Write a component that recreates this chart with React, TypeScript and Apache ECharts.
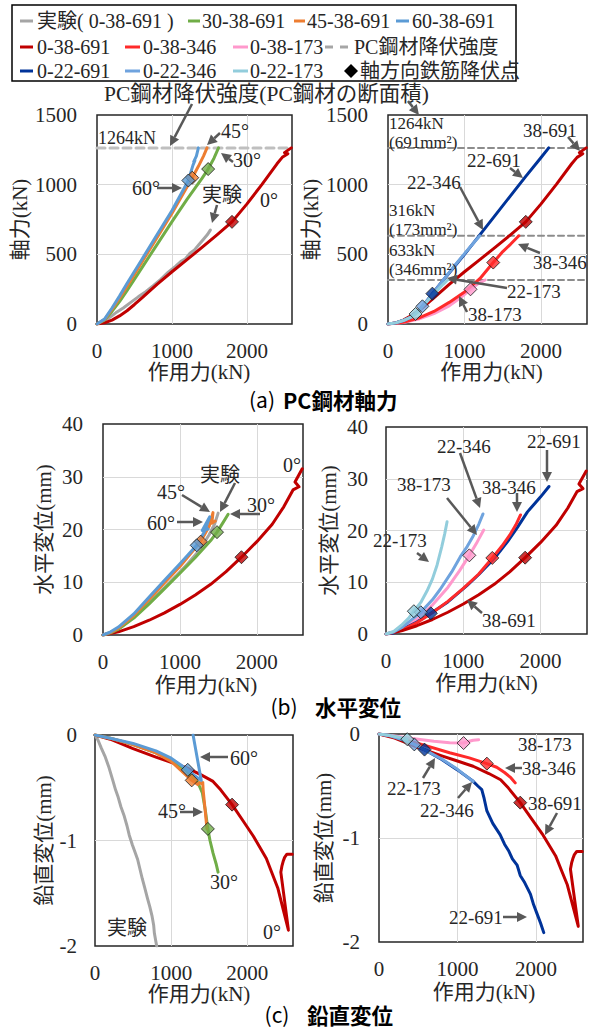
import React, { useEffect, useRef } from 'react';
import * as echarts from 'echarts';

const FONT = '"Liberation Serif", "Times New Roman", serif, "Noto Sans CJK JP"';
const SANS = '"Noto Sans CJK JP", "Noto Sans", sans-serif';

// ---------- series names ----------
const N_EXP = '実験( 0-38-691 )';
const N_30 = '30-38-691';
const N_45 = '45-38-691';
const N_60 = '60-38-691';
const N_38_691 = '0-38-691';
const N_38_346 = '0-38-346';
const N_38_173 = '0-38-173';
const N_PC = 'PC鋼材降伏強度';
const N_22_691 = '0-22-691';
const N_22_346 = '0-22-346';
const N_22_173 = '0-22-173';
const N_YIELD = '軸方向鉄筋降伏点';

// ---------- axis ticks ----------
const forceTicks = [0, 1000, 2000];
const axialTicks = [0, 500, 1000, 1500];
const horizTicks = [0, 10, 20, 30, 40];
const vertTicks = [-2, -1, 0];
const forceMax = 2600;

// PC steel yield strengths (kN)
const pcYield = [1264, 633, 316];

// ---------- (a) axial force of PC steel [force kN, axial kN] ----------
const axial_exp = [[0,0],[60,15],[150,40],[250,80],[350,115],[450,155],[550,195],[650,232],[750,275],[850,320],[950,372],[1050,415],[1120,450],[1180,468],[1240,508],[1300,532],[1360,570],[1420,608],[1470,640],[1511,674]];
const axial_30 = [[0,0],[100,28],[200,90],[300,160],[400,240],[600,405],[800,570],[1000,735],[1200,895],[1400,1045],[1482,1112],[1560,1190],[1620,1264]];
const axial_45 = [[0,0],[100,32],[200,105],[300,185],[400,270],[600,445],[800,620],[1000,795],[1270,1050],[1350,1130],[1420,1205],[1467,1264]];
const axial_60 = [[0,0],[100,35],[200,115],[300,200],[400,290],[600,465],[800,640],[1000,815],[1218,1030],[1280,1140],[1305,1172],[1290,1166],[1325,1205],[1352,1264]];
const axial_38_691 = [[0,0],[100,8],[200,28],[300,58],[400,95],[500,140],[600,188],[800,285],[1000,375],[1200,462],[1400,550],[1600,640],[1800,733],[2000,862],[2200,1002],[2400,1150],[2470,1196],[2545,1222],[2500,1230],[2590,1264]];
const axial_38_346 = [[0,0],[200,12],[400,42],[600,90],[800,155],[1000,230],[1200,325],[1375,441],[1500,520],[1600,572],[1710,633]];
const axial_38_173 = [[0,0],[200,10],[400,35],[600,75],[800,130],[950,190],[1078,249],[1180,290],[1270,316]];
const axial_22_691 = [[0,0],[100,8],[200,25],[300,50],[400,95],[500,160],[580,218],[700,300],[850,400],[1000,500],[1200,640],[1400,780],[1600,920],[1800,1060],[2000,1195],[2100,1264]];
const axial_22_346 = [[0,0],[100,8],[200,25],[300,50],[400,95],[450,127],[550,195],[700,300],[850,405],[1000,505],[1100,570],[1200,633]];
const axial_22_173 = [[0,0],[100,8],[200,25],[300,50],[360,72],[450,125],[550,185],[650,245],[720,285],[780,316]];

// ---------- (b) horizontal displacement [force kN, mm] ----------
const horiz_exp = [[0,0],[100,0.4],[200,1.2],[350,2.8],[500,4.8],[650,6.9],[800,9.0],[950,11.2],[1100,13.5],[1250,16.0],[1380,19.0],[1450,21.0],[1497,23.1]];
const horiz_30 = [[0,0],[100,0.4],[200,1.1],[400,3.2],[600,5.9],[800,8.8],[1000,11.7],[1200,14.7],[1400,17.9],[1482,19.5],[1560,21.3],[1627,22.9]];
const horiz_45 = [[0,0],[100,0.5],[200,1.3],[400,3.7],[600,6.8],[800,9.9],[1000,13.0],[1270,17.7],[1380,20.6],[1430,23.2],[1415,21.2],[1460,21.6]];
const horiz_60 = [[0,0],[100,0.6],[200,1.5],[400,4.0],[600,7.2],[800,10.4],[1000,13.5],[1218,17.0],[1320,19.6],[1388,22.4],[1290,19.8],[1365,20.1]];
const horiz_38_691 = [[0,0],[200,0.6],[400,1.6],[600,2.8],[800,4.2],[1000,5.8],[1200,7.6],[1400,9.6],[1600,12.0],[1800,14.75],[2000,17.7],[2200,21.0],[2350,24.3],[2470,27.5],[2548,28.1],[2496,29.0],[2590,31.5]];
const horiz_38_346 = [[0,0],[200,0.7],[400,2.2],[600,4.1],[800,6.3],[1000,8.8],[1200,11.6],[1375,14.7],[1500,17.0],[1600,19.1],[1680,21.1],[1740,23.0]];
const horiz_38_173 = [[0,0],[100,0.3],[200,0.9],[400,2.9],[600,5.6],[800,9.0],[950,12.2],[1078,15.2],[1180,17.8],[1264,20.1]];
const horiz_22_691 = [[0,0],[100,0.2],[200,0.8],[400,2.3],[580,4.0],[800,6.2],[1050,9.4],[1200,11.5],[1400,14.6],[1570,17.8],[1700,20.6],[1830,23.6],[2000,26.5],[2108,28.5]];
const horiz_22_346 = [[0,0],[100,0.4],[200,1.2],[300,2.4],[450,4.2],[600,6.6],[700,8.6],[850,12.0],[960,14.9],[1050,16.9],[1130,19.0],[1200,21.2],[1255,23.2]];
const horiz_22_173 = [[0,0],[100,0.5],[200,1.7],[300,3.2],[360,4.4],[450,6.1],[530,8.3],[600,10.6],[660,13.3],[720,16.8],[760,19.4],[790,21.7]];

// ---------- (c) vertical displacement [force kN, mm] ----------
const vert_exp = [[0,0],[40,-0.05],[80,-0.12],[130,-0.2],[180,-0.3],[230,-0.42],[270,-0.52],[300,-0.58],[340,-0.68],[380,-0.76],[420,-0.86],[450,-0.95],[490,-1.04],[520,-1.1],[560,-1.18],[590,-1.27],[620,-1.36],[650,-1.44],[690,-1.55],[720,-1.63],[750,-1.72],[770,-1.8],[780,-1.88],[795,-1.94],[810,-2.0]];
const vert_30 = [[0,0],[200,-0.03],[500,-0.09],[800,-0.17],[1000,-0.24],[1200,-0.34],[1350,-0.45],[1410,-0.55],[1450,-0.72],[1482,-0.89],[1510,-1.0],[1550,-1.12],[1590,-1.22],[1616,-1.3]];
const vert_45 = [[0,0],[200,-0.03],[500,-0.09],[800,-0.17],[1000,-0.25],[1270,-0.43],[1350,-0.47],[1375,-0.45],[1395,-0.46],[1415,-0.45],[1420,-0.52],[1445,-0.7],[1470,-0.89]];
const vert_60 = [[0,0],[200,-0.03],[500,-0.08],[800,-0.15],[1000,-0.22],[1218,-0.33],[1300,-0.38],[1395,-0.43],[1288,0.0]];
const vert_38_691 = [[0,0],[200,-0.04],[500,-0.13],[800,-0.21],[1000,-0.26],[1200,-0.31],[1400,-0.38],[1550,-0.44],[1650,-0.52],[1800,-0.66],[1950,-0.82],[2080,-0.96],[2250,-1.17],[2330,-1.32],[2400,-1.45],[2470,-1.65],[2540,-1.85],[2440,-1.3],[2455,-1.24],[2470,-1.2],[2490,-1.16],[2520,-1.13],[2590,-1.13]];
const vert_38_346 = [[0,0],[200,-0.03],[500,-0.09],[900,-0.18],[1150,-0.23],[1375,-0.285],[1500,-0.32],[1600,-0.37],[1680,-0.42],[1736,-0.47]];
const vert_38_173 = [[0,0],[200,-0.02],[400,-0.04],[700,-0.07],[900,-0.085],[1078,-0.087],[1150,-0.07],[1200,-0.06],[1270,-0.055]];
const vert_22_691 = [[0,0],[150,-0.02],[300,-0.06],[450,-0.11],[580,-0.15],[800,-0.245],[1000,-0.345],[1200,-0.455],[1260,-0.5],[1310,-0.535],[1340,-0.62],[1375,-0.74],[1450,-0.86],[1545,-0.97],[1600,-1.06],[1650,-1.12],[1700,-1.2],[1760,-1.26],[1800,-1.36],[1850,-1.42],[1930,-1.54],[1970,-1.64],[2010,-1.72],[2060,-1.82],[2100,-1.91]];
const vert_22_346 = [[0,0],[150,-0.02],[300,-0.055],[450,-0.1],[600,-0.16],[800,-0.24],[1000,-0.34],[1200,-0.455]];
const vert_22_173 = [[0,0],[120,-0.012],[240,-0.028],[360,-0.05]];

// ---------- yield points of axial rebar ----------
// order: 0-38-691, 30, 45, 60, 0-38-346, 0-38-173, 0-22-691, 0-22-346, 0-22-173
const yieldForce = [1800, 1482, 1270, 1218, 1375, 1078, 580, 450, 360];
const yieldAxial = [733, 1112, 1050, 1030, 441, 249, 218, 127, 72];
const yieldHoriz = [14.75, 19.5, 17.7, 17.0, 14.7, 15.2, 4.0, 4.2, 4.4];
const yieldVert = [-0.66, -0.89, -0.43, -0.33, -0.285, -0.087, -0.15, -0.1, -0.05];

// ---------- styles ----------
const C_EXP = '#A5A5A5';
const C_30 = '#70AD47';
const C_45 = '#ED7D31';
const C_60 = '#5B9BD5';
const C_38_691 = '#C00000';
const C_38_346 = '#FF2A2A';
const C_38_173 = '#FF99CC';
const C_PC = '#A6A6A6';
const C_22_691 = '#003399';
const C_22_346 = '#6FA3DE';
const C_22_173 = '#92CDDC';
const yieldColors = [C_38_691, C_30, C_45, C_60, C_38_346, C_38_173, C_22_691, C_22_346, C_22_173];
const TXT = '#262626';
const ARR = '#595959';

const grids = [
  { left: 97, top: 115, width: 195, height: 209 },
  { left: 388, top: 115, width: 199, height: 209 },
  { left: 103, top: 424, width: 200, height: 211 },
  { left: 386, top: 427, width: 201, height: 207 },
  { left: 95, top: 735, width: 198, height: 211 },
  { left: 379, top: 734, width: 204, height: 208 },
];

function lineS(name: string, data: number[][], color: string, gi: number, opts: any = {}) {
  return {
    type: 'line', name, data, xAxisIndex: gi, yAxisIndex: gi,
    symbol: 'none', showSymbol: false, silent: true, clip: true,
    smooth: opts.smooth ?? false,
    lineStyle: { color, width: opts.width ?? 3, type: opts.dash ?? 'solid', cap: 'round', join: 'round' },
    itemStyle: { color }, z: opts.z ?? 2,
  };
}
function pcLine(v: number, gi: number, color: string, width: number, dash: number[]) {
  return lineS(N_PC, [[0, v], [forceMax, v]], color, gi, { width, dash, z: 1 });
}
function yieldS(gi: number, idx: number[], ys: number[]) {
  return {
    type: 'scatter', name: N_YIELD, xAxisIndex: gi, yAxisIndex: gi, silent: true,
    symbol: 'diamond', symbolSize: 13, z: 5,
    data: idx.map((i) => ({ value: [yieldForce[i], ys[i]], itemStyle: { color: yieldColors[i], borderColor: '#1a1a1a', borderWidth: 1 } })),
  };
}

const plain = (v: number) => String(v);

function xAx(gi: number, nameGap: number, shift: number) {
  return {
    type: 'value', gridIndex: gi, min: forceTicks[0], max: forceMax, interval: forceTicks[1] - forceTicks[0],
    axisLine: { show: false }, axisTick: { show: false },
    splitLine: { show: true, showMinLine: false, showMaxLine: false, lineStyle: { color: '#d9d9d9', width: 1 } },
    axisLabel: { fontFamily: FONT, fontSize: 21, color: TXT, margin: 16, showMaxLabel: false, formatter: plain },
    name: '作用力(kN)', nameLocation: 'middle', nameGap,
    nameTextStyle: { fontFamily: FONT, fontSize: 21, color: TXT, padding: [0, 0, 0, shift * 2] },
  };
}
function yAx(gi: number, ticks: number[], name: string, nameGap: number, margin: number) {
  return {
    type: 'value', gridIndex: gi, min: ticks[0], max: ticks[ticks.length - 1], interval: ticks[1] - ticks[0],
    axisLine: { show: false }, axisTick: { show: false },
    splitLine: { show: true, showMinLine: false, showMaxLine: false, lineStyle: { color: '#d9d9d9', width: 1 } },
    axisLabel: { fontFamily: FONT, fontSize: 21, color: TXT, margin, formatter: plain },
    name, nameLocation: 'middle', nameGap,
    nameTextStyle: { fontFamily: FONT, fontSize: 21, color: TXT },
  };
}

function T(text: string, x: number, y: number, size = 19, opts: any = {}) {
  return {
    type: 'text', x, y, z: 30, silent: true,
    style: {
      text, fontFamily: opts.family ?? FONT, fontSize: size, fontWeight: opts.weight ?? 'normal',
      fill: opts.fill ?? TXT, align: opts.align ?? 'left', textAlign: opts.align ?? 'left',
      verticalAlign: 'middle', textVerticalAlign: 'middle',
      lineHeight: opts.lh ?? undefined,
    },
  };
}
function arrow(x1: number, y1: number, x2: number, y2: number) {
  const dx = x2 - x1, dy = y2 - y1;
  const L = Math.hypot(dx, dy);
  const ux = dx / L, uy = dy / L;
  const hl = 10, hw = 5;
  const bx = x2 - ux * hl, by = y2 - uy * hl;
  return [
    { type: 'line', z: 30, silent: true, shape: { x1, y1, x2: bx, y2: by }, style: { stroke: ARR, lineWidth: 2.5 } },
    { type: 'polygon', z: 30, silent: true, shape: { points: [[x2, y2], [bx - uy * hw, by + ux * hw], [bx + uy * hw, by - ux * hw]] }, style: { fill: ARR } },
  ];
}
function legLine(x1: number, x2: number, y: number, color: string) {
  return { type: 'line', z: 31, silent: true, shape: { x1, y1: y, x2, y2: y }, style: { stroke: color, lineWidth: 3 } };
}

function buildOption() {
  const series: any[] = [
    // (a) left
    pcLine(pcYield[0], 0, '#BFBFBF', 3, [8, 5]),
    lineS(N_EXP, axial_exp, C_EXP, 0),
    lineS(N_38_691, axial_38_691, C_38_691, 0),
    lineS(N_30, axial_30, C_30, 0),
    lineS(N_45, axial_45, C_45, 0),
    lineS(N_60, axial_60, C_60, 0),
    yieldS(0, [0, 1, 2, 3], yieldAxial),
    // (a) right
    pcLine(pcYield[0], 1, '#8C8C8C', 2, [6, 4]),
    pcLine(pcYield[1], 1, '#8C8C8C', 2, [6, 4]),
    pcLine(pcYield[2], 1, '#8C8C8C', 2, [6, 4]),
    lineS(N_38_173, axial_38_173, C_38_173, 1),
    lineS(N_38_346, axial_38_346, C_38_346, 1),
    lineS(N_38_691, axial_38_691, C_38_691, 1),
    lineS(N_22_691, axial_22_691, C_22_691, 1),
    lineS(N_22_346, axial_22_346, C_22_346, 1),
    lineS(N_22_173, axial_22_173, C_22_173, 1),
    yieldS(1, [0, 4, 5, 6, 7, 8], yieldAxial),
    // (b) left
    lineS(N_EXP, horiz_exp, C_EXP, 2),
    lineS(N_38_691, horiz_38_691, C_38_691, 2),
    lineS(N_30, horiz_30, C_30, 2),
    lineS(N_45, horiz_45, C_45, 2),
    lineS(N_60, horiz_60, C_60, 2),
    yieldS(2, [0, 1, 2, 3], yieldHoriz),
    // (b) right
    lineS(N_38_173, horiz_38_173, C_38_173, 3),
    lineS(N_22_691, horiz_22_691, C_22_691, 3),
    lineS(N_38_346, horiz_38_346, C_38_346, 3),
    lineS(N_38_691, horiz_38_691, C_38_691, 3),
    lineS(N_22_346, horiz_22_346, C_22_346, 3),
    lineS(N_22_173, horiz_22_173, C_22_173, 3),
    yieldS(3, [0, 4, 5, 6, 7, 8], yieldHoriz),
    // (c) left
    lineS(N_EXP, vert_exp, C_EXP, 4),
    lineS(N_38_691, vert_38_691, C_38_691, 4),
    lineS(N_30, vert_30, C_30, 4),
    lineS(N_45, vert_45, C_45, 4),
    lineS(N_60, vert_60, C_60, 4),
    yieldS(4, [0, 1, 2, 3], yieldVert),
    // (c) right
    lineS(N_38_173, vert_38_173, C_38_173, 5),
    lineS(N_22_691, vert_22_691, C_22_691, 5),
    lineS(N_38_346, vert_38_346, C_38_346, 5),
    lineS(N_38_691, vert_38_691, C_38_691, 5),
    lineS(N_22_346, vert_22_346, C_22_346, 5),
    lineS(N_22_173, vert_22_173, C_22_173, 5),
    yieldS(5, [0, 4, 5, 6, 7, 8], yieldVert),
  ];

  const xAxis = [xAx(0, 37, 4.5), xAx(1, 36, 4), xAx(2, 39, 3), xAx(3, 38, 0), xAx(4, 37, 5), xAx(5, 39, 3)];
  const yAxis = [
    yAx(0, axialTicks, '軸力(kN)', 67, 20),
    yAx(1, axialTicks, '軸力(kN)', 67, 20),
    yAx(2, horizTicks, '水平変位(mm)', 49, 20),
    yAx(3, horizTicks, '水平変位(mm)', 47, 18),
    yAx(4, vertTicks, '鉛直変位(mm)', 41, 18),
    yAx(5, vertTicks, '鉛直変位(mm)', 45, 19),
  ];

  const g: any[] = [];
  // legend box
  g.push({ type: 'rect', z: 29, silent: true, shape: { x: 12, y: 5, width: 504, height: 76 }, style: { fill: '#fff', stroke: '#000', lineWidth: 1.5 } });
  const r1 = 21, r2 = 47, r3 = 71;
  g.push(legLine(20, 33, r1, C_EXP), T(N_EXP, 37, r1, 20));
  g.push(legLine(188, 200, r1, C_30), T(N_30, 202, r1, 20));
  g.push(legLine(294, 305, r1, C_45), T(N_45, 307, r1, 20));
  g.push(legLine(396, 409, r1, C_60), T(N_60, 412, r1, 20));
  g.push(legLine(20, 33, r2, C_38_691), T(N_38_691, 37, r2, 20));
  g.push(legLine(125, 140, r2, C_38_346), T(N_38_346, 143, r2, 20));
  g.push(legLine(233, 248, r2, C_38_173), T(N_38_173, 250, r2, 20));
  g.push(legLine(325, 333, r2, C_PC), legLine(340, 348, r2, C_PC), T(N_PC, 354, r2, 20));
  g.push(legLine(20, 33, r3, C_22_691), T(N_22_691, 37, r3, 20));
  g.push(legLine(125, 140, r3, C_22_346), T(N_22_346, 143, r3, 20));
  g.push(legLine(233, 248, r3, C_22_173), T(N_22_173, 250, r3, 20));
  g.push({ type: 'polygon', z: 31, silent: true, shape: { points: [[351, r3 - 7], [358, r3], [351, r3 + 7], [344, r3]] }, style: { fill: '#000' } });
  g.push(T(N_YIELD, 360, r3, 20));

  // (a) left annotations
  g.push(T('PC鋼材降伏強度(PC鋼材の断面積)', 104, 94, 21.5));
  g.push(...arrow(192, 104, 170, 146), ...arrow(408, 101, 419, 115));
  g.push(T('1264kN', 98, 138, 18));
  g.push(T('45°', 221, 131, 20), ...arrow(220, 133, 207, 145));
  g.push(T('30°', 233, 160, 20), ...arrow(233, 162, 221, 153));
  g.push(T('60°', 132, 188, 20), ...arrow(157, 188, 182, 188));
  g.push(T('実験', 202, 195, 20), ...arrow(217, 205, 212, 223));
  g.push(T('0°', 260, 200, 20));
  // (a) right annotations
  g.push(T('1264kN\n(691mm²)', 389, 133, 17, { lh: 19 }));
  g.push(T('38-691', 523, 130, 19), ...arrow(568, 137, 580, 151));
  g.push(T('22-691', 467, 160, 19), ...arrow(510, 168, 523, 178));
  g.push(T('22-346', 407, 182, 19), ...arrow(460, 187, 483, 230));
  g.push(T('316kN\n(173mm²)', 389, 219.5, 17, { lh: 19 }));
  g.push(T('633kN\n(346mm²)', 389, 259.5, 17, { lh: 19 }));
  g.push(T('38-346', 533, 262, 19), ...arrow(540, 253, 518, 244));
  g.push(T('22-173', 507, 291, 19), ...arrow(507, 288, 447, 278));
  g.push(T('38-173', 468, 314, 19), ...arrow(467, 312, 459, 296));
  // (b) left
  g.push(T('0°', 283, 465, 20));
  g.push(T('実験', 200, 475, 20), ...arrow(235, 483, 220, 512));
  g.push(T('45°', 157, 492, 20), ...arrow(182, 495, 210, 512));
  g.push(T('30°', 247, 505, 20), ...arrow(260, 514, 230, 514));
  g.push(T('60°', 147, 523, 20), ...arrow(177, 522, 203, 522));
  // (b) right
  g.push(T('22-346', 437, 446, 19), ...arrow(460, 453, 480, 508));
  g.push(T('22-691', 527, 441, 19), ...arrow(547, 450, 547, 482));
  g.push(T('38-173', 397, 484, 19), ...arrow(447, 498, 477, 535));
  g.push(T('38-346', 482, 487, 19), ...arrow(517, 493, 517, 512));
  g.push(T('22-173', 373, 540, 19), ...arrow(417, 553, 429, 562));
  g.push(T('38-691', 482, 620, 19), ...arrow(482, 613, 467, 600));
  // (c) left
  g.push(T('60°', 230, 758, 20), ...arrow(228, 757, 200, 757));
  g.push(T('45°', 158, 811, 20), ...arrow(180, 812, 203, 812));
  g.push(T('30°', 210, 882, 20));
  g.push(T('0°', 263, 932, 20));
  g.push(T('実験', 107, 928, 20));
  // (c) right
  g.push(T('38-173', 518, 744, 19));
  g.push(T('38-346', 522, 768, 19), ...arrow(522, 768, 505, 768));
  g.push(T('38-691', 528, 803, 19), ...arrow(557, 813, 545, 835));
  g.push(T('22-173', 387, 788, 19), ...arrow(423, 778, 435, 758));
  g.push(T('22-346', 420, 810, 19), ...arrow(458, 798, 472, 782));
  g.push(T('22-691', 449, 917, 19), ...arrow(503, 917, 527, 917));
  // captions
  const cap = { family: SANS, fill: '#000', weight: 'bold', lh: 23 };
  const capP = { family: SANS, fill: '#000', align: 'center', lh: 23 };
  g.push(T('(a)', 262, 399, 21, capP), T('PC鋼材軸力', 283, 399, 21.5, cap));
  g.push(T('(b)', 284, 706, 21, capP), T('水平変位', 315, 706, 21.5, cap));
  g.push(T('(c)', 277, 1014, 21, capP), T('鉛直変位', 307, 1014, 21.5, cap));

  return {
    animation: false,
    backgroundColor: '#ffffff',
    textStyle: { fontFamily: FONT },
    grid: grids.map((gr) => ({ ...gr, show: true, borderColor: '#262626', borderWidth: 1.5, backgroundColor: 'rgba(0,0,0,0)', containLabel: false })),
    xAxis,
    yAxis,
    series,
    graphic: g,
  };
}

export default function App() {
  const ref = useRef<HTMLDivElement>(null);
  useEffect(() => {
    if (!ref.current) return;
    const chart = echarts.init(ref.current, undefined, { renderer: 'svg' });
    chart.setOption(buildOption() as any);
    return () => chart.dispose();
  }, []);
  return <div ref={ref} style={{ position: 'absolute', left: 0, top: 0, width: 601, height: 1031, background: '#fff' }} />;
}
